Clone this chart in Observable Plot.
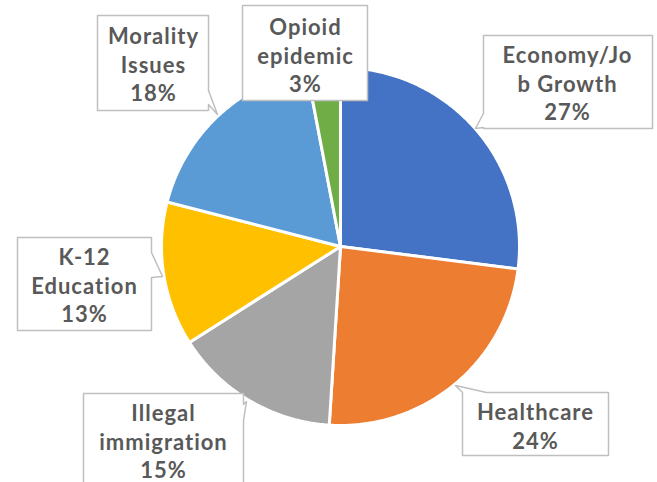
<!DOCTYPE html>
<html><head><meta charset="utf-8">
<script src="https://cdn.jsdelivr.net/npm/d3@7"></script>
<script src="https://cdn.jsdelivr.net/npm/@observablehq/plot@0.6"></script>
<style>body{margin:0;background:#fff}</style>
</head><body><div id="chart"></div>
<script>
// ---- data ----
const categories = ["Economy/Job Growth","Healthcare","Illegal immigration","K-12 Education","Morality Issues","Opioid epidemic"];
const values = [27,24,15,13,18,3];
const labelLines = ["Economy/Jo\nb Growth","Healthcare","Illegal\nimmigration","K-12\nEducation","Morality\nIssues","Opioid\nepidemic"];
const colors = ["#4472C4","#ED7D31","#A5A5A5","#FFC000","#5B9BD5","#70AD47"];

// ---- layout ----
const W = 657, H = 482, cx = 340, cy = 246, R = 179;
const callouts = [
  {box:[483,35,652,128], ptr:{side:"left", a:113, b:127, tip:[475,128]}, text:[567,82]},
  {box:[462,392,608,455], ptr:{side:"top", a:462, b:486, tip:[455,385]}, text:[535,425]},
  {box:[83,393,243,500], ptr:{side:"right", a:404, b:420, tip:[246,401]}, text:[163,440]},
  {box:[17,237,151,330], ptr:{side:"right", a:252, b:277, tip:[162,276]}, text:[84,284]},
  {box:[97,15,208,110], ptr:{side:"right", a:90, b:104, tip:[217,114]}, text:[153,63]},
  {box:[242,5,367,100], ptr:null, text:[305,54]}
];

// pie slices from data
const arcs = d3.pie().sort(null).value(d => d)(values);
const sliceRows = [];
arcs.forEach((a, i) => {
  const name = categories[i];
  sliceRows.push({name, x: cx, y: cy});
  const n = Math.max(2, Math.ceil((a.endAngle - a.startAngle) / 0.01));
  for (let k = 0; k <= n; k++) {
    const t = a.startAngle + (a.endAngle - a.startAngle) * k / n;
    sliceRows.push({name, x: cx + R * Math.sin(t), y: cy - R * Math.cos(t)});
  }
  sliceRows.push({name, x: cx, y: cy});
});

// callout polygons
const calloutRows = [];
callouts.forEach((c, i) => {
  const [x1,y1,x2,y2] = c.box, p = c.ptr;
  const pts = [[x1,y1]];
  if (p && p.side === "top") pts.push([p.a,y1], p.tip, [p.b,y1]);
  pts.push([x2,y1]);
  if (p && p.side === "right") pts.push([x2,p.a], p.tip, [x2,p.b]);
  pts.push([x2,y2]);
  if (p && p.side === "bottom") pts.push([p.b,y2], p.tip, [p.a,y2]);
  pts.push([x1,y2]);
  if (p && p.side === "left") pts.push([x1,p.b], p.tip, [x1,p.a]);
  pts.push([x1,y1]);
  pts.forEach(([x,y]) => calloutRows.push({id: i, x, y}));
});

const labelRows = categories.map((name, i) => ({
  name,
  text: labelLines[i] + "\n" + values[i] + "%",
  x: callouts[i].text[0],
  y: callouts[i].text[1]
}));

const chart = Plot.plot({
  width: W, height: H, margin: 0,
  x: {domain: [0, W], range: [0, W], axis: null},
  y: {domain: [0, H], range: [0, H], axis: null},
  color: {domain: categories, range: colors},
  style: {background: "#fff", letterSpacing: "1px"},
  marks: [
    Plot.line(sliceRows, {x: "x", y: "y", z: "name", fill: "name", stroke: "white", strokeWidth: 3, strokeLinejoin: "round", curve: "linear"}),
    Plot.line(calloutRows, {x: "x", y: "y", z: "id", fill: "white", stroke: "#BFBFBF", strokeWidth: 1.5, curve: "linear"}),
    Plot.text(labelRows, {x: "x", y: "y", text: "text", fontFamily: "Lato", fontWeight: 700, fontSize: 22, fill: "#595959", lineHeight: 1.3, lineAnchor: "middle", textAnchor: "middle"})
  ]
});
document.getElementById("chart").appendChild(chart);
</script>
</body></html>
